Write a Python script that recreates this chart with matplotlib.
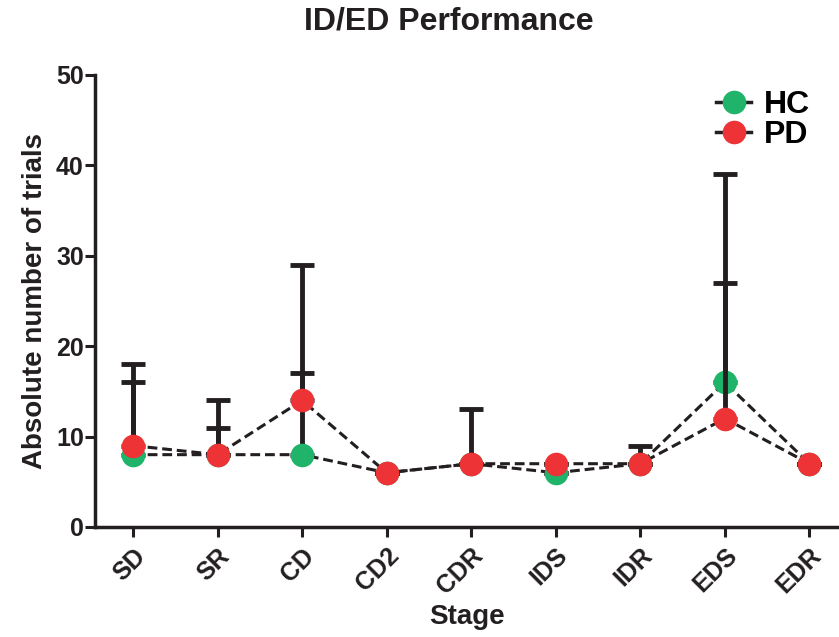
import matplotlib
matplotlib.use("Agg")
import matplotlib.pyplot as plt
import numpy as np

plt.rcParams["font.family"] = ["Liberation Sans", "DejaVu Sans"]
plt.rcParams["font.weight"] = "bold"

stages = ["SD", "SR", "CD", "CD2", "CDR", "IDS", "IDR", "EDS", "EDR"]
hc_mean = [8, 8, 8, 6, 7, 6, 7, 16, 7]
pd_mean = [9, 8, 14, 6, 7, 7, 7, 12, 7]
# upper error (top of bar minus mean)
hc_err = [8, 3, 9, 0, 0, 0, 0, 11, 0]
pd_err = [9, 6, 15, 0, 6, 0, 2, 27, 0]

green = "#1fb46a"
red = "#ee3337"
ink = "#231f20"

fig = plt.figure(figsize=(8.39, 6.37), dpi=100)
ax = fig.add_axes([0.1132, 0.1727, 0.8868, 0.7096])
x = np.arange(len(stages))

# each group drawn whole (bar, line, markers) so PD sits on top of HC
for i, (mean, err, col) in enumerate([(hc_mean, hc_err, green), (pd_mean, pd_err, red)]):
    z = 2 + 3 * i
    ax.errorbar(x, mean, yerr=[np.zeros(len(err)), err], fmt="none", ecolor=ink,
                elinewidth=3.5, capsize=8.5, capthick=3.5, zorder=z)
    ax.plot(x, mean, ls=(0, (3.2, 1.6)), color=ink, lw=2.2, zorder=z + 1)
    ax.plot(x, mean, "o", ms=17, color=col, mec="none", zorder=z + 2)

# legend handles: marker with short line stubs
hc_h, = ax.plot([], [], ls="-", color=ink, lw=2.5, marker="o", ms=17,
                mfc=green, mec="none", label="HC")
pd_h, = ax.plot([], [], ls="-", color=ink, lw=2.5, marker="o", ms=17,
                mfc=red, mec="none", label="PD")
ax.legend(handles=[hc_h, pd_h], loc="upper right", bbox_to_anchor=(1.0, 1.03),
          frameon=False, handlelength=1.1, handletextpad=0.4,
          labelspacing=0.0, prop={"weight": "bold", "size": 23})

ax.set_xlim(-0.45, 8.35)
ax.set_ylim(0, 50)
ax.set_yticks([0, 10, 20, 30, 40, 50])
ax.set_xticks(x)
ax.set_xticklabels(stages, rotation=45, ha="right", rotation_mode="anchor",
                   fontsize=18, fontweight="bold")
ax.tick_params(axis="y", labelsize=18, width=2.2, length=7, pad=1, colors=ink)
ax.tick_params(axis="x", width=2.2, length=7, pad=5, colors=ink)
for lab in ax.get_yticklabels():
    lab.set_fontweight("bold")
for s in ["top", "right"]:
    ax.spines[s].set_visible(False)
for s in ["left", "bottom"]:
    ax.spines[s].set_linewidth(2.5)
    ax.spines[s].set_color(ink)

ax.set_ylabel("Absolute number of trials", fontsize=20, fontweight="bold",
              labelpad=6, color=ink)
ax.set_xlabel("Stage", fontsize=20, fontweight="bold", labelpad=4, color=ink)
fig.suptitle("ID/ED Performance", fontsize=23, fontweight="bold", x=0.535, y=0.99,
             color=ink)

fig.savefig("out.png", dpi=100)
